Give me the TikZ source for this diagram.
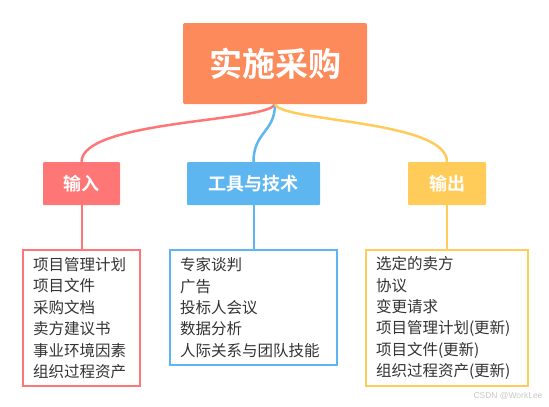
\documentclass[tikz,border=0pt]{standalone}
\usepackage{fontspec}
\setmainfont{Noto Sans CJK SC}[BoldFont={Noto Sans CJK SC Bold}]
\newfontfamily\wmfont{Liberation Sans}
\usepackage{tikz}
\usetikzlibrary{positioning}

\definecolor{mainorange}{HTML}{FC8A5A}
\definecolor{inred}{HTML}{FF7676}
\definecolor{toolblue}{HTML}{5EB6F0}
\definecolor{outyellow}{HTML}{FFCC5A}
\definecolor{itemgray}{HTML}{333333}

\begin{document}
\begin{tikzpicture}
    [x=1pt, y=-1pt,
    topnode/.style={rectangle, rounded corners=2pt, fill=mainorange, text=white,
        minimum width=184pt, minimum height=81pt, font=\fontsize{33}{36}\selectfont\bfseries},
    branchnode/.style={rectangle, rounded corners=1pt, text=white, minimum height=43pt,
        font=\fontsize{18}{20}\selectfont\bfseries},
    listnode/.style={rectangle, draw, line width=1.8pt, fill=white, align=left, anchor=north,
        inner xsep=10pt, text=itemgray, font=\fontsize{15.5}{21.4}\selectfont},
    branchline/.style={line width=2.5pt},
    stemline/.style={line width=2pt},]

    \useasboundingbox (0,0) rectangle (549,407);

    %Nodes
    \node[topnode](main) at (275,63.5){实施采购};

    \node[branchnode, fill=inred, minimum width=77pt](input) at (81.5,183.5){输入};
    \node[branchnode, fill=toolblue, minimum width=133pt](tools) at (253.5,183.5){工具与技术};
    \node[branchnode, fill=outyellow, minimum width=78pt](output) at (447,183.5){输出};

    \node[listnode, draw=inred, text width=97pt, minimum height=136pt](inlist)[below=44pt of input]
        {项目管理计划\\项目文件\\采购文档\\卖方建议书\\事业环境因素\\组织过程资产};
    \node[listnode, draw=toolblue, text width=147pt, minimum height=115pt](toollist)[below=44pt of tools]
        {专家谈判\\广告\\投标人会议\\数据分析\\人际关系与团队技能};
    \node[listnode, draw=outyellow, text width=142pt, minimum height=136pt](outlist)[below=44pt of output]
        {选定的卖方\\协议\\变更请求\\项目管理计划(更新)\\项目文件(更新)\\组织过程资产(更新)};

    %Lines
    \draw[branchline, inred](main.south) .. controls (268,122) and (82,120) .. (input.north);
    \draw[branchline, toolblue](main.south) .. controls (275,132) and (253.5,132) .. (tools.north);
    \draw[branchline, outyellow](main.south) .. controls (282,122) and (447,120) .. (output.north);

    \draw[stemline, inred](input.south)--(inlist.north);
    \draw[stemline, toolblue](tools.south)--(toollist.north);
    \draw[stemline, outyellow](output.south)--(outlist.north);

    %Labels
    \node(mark)[anchor=east, text=black!22, font=\wmfont\fontsize{8.5}{10}\selectfont] at (546,396){CSDN @WorkLee};

\end{tikzpicture}
\end{document}
